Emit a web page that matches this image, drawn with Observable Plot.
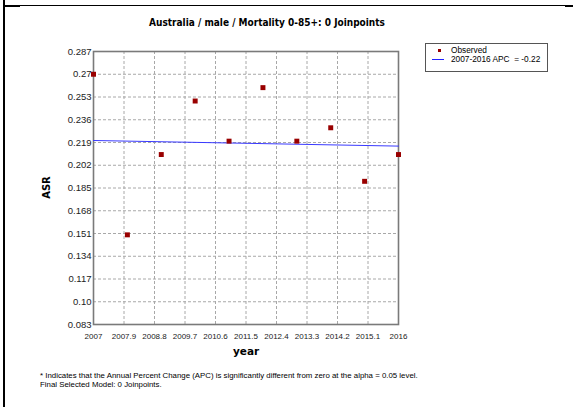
<!DOCTYPE html>
<html><head><meta charset="utf-8">
<script src="https://cdn.jsdelivr.net/npm/d3@7"></script>
<script src="https://cdn.jsdelivr.net/npm/@observablehq/plot@0.6"></script>
<style>
body{margin:0;background:#fff;width:573px;height:407px;position:relative;overflow:hidden;font-family:"Liberation Sans",Arial,sans-serif;color:#000}
#chart{position:absolute;left:0;top:0}
.abs{position:absolute;white-space:nowrap}
#title{left:0;width:534px;top:17px;text-align:center;font-weight:bold;font-size:10px;font-family:"DejaVu Sans Condensed","DejaVu Sans",sans-serif}
#xlab{left:233px;top:345px;font-weight:bold;font-size:10.5px;font-family:"DejaVu Sans",sans-serif}
#ylab{left:35px;top:182px;font-weight:bold;font-size:10px;font-family:"DejaVu Sans",sans-serif;transform:rotate(-90deg);transform-origin:center}
#legend{left:425px;top:43px;width:121px;height:27px;border:1px solid #555;background:#fff}
#foot{left:40px;top:372px;font-size:7.85px;line-height:8.5px}
.leg{font-size:8.3px}
</style></head><body>
<div class="abs" style="left:3px;top:0;width:2px;height:407px;background:#000"></div>
<div class="abs" style="left:4px;top:5px;width:565px;height:1px;background:#000"></div>
<div class="abs" style="left:4px;top:5px;width:16px;height:2px;background:#000"></div>
<div class="abs" style="left:565px;top:5px;width:8px;height:2px;background:#000"></div>
<div id="chart"></div>
<div id="title" class="abs">Australia / male / Mortality 0-85+: 0 Joinpoints</div>
<div id="xlab" class="abs">year</div>
<div id="ylab" class="abs">ASR</div>
<div id="legend" class="abs">
  <div class="abs" style="left:12px;top:5px;width:3px;height:3px;background:#990000"></div>
  <div class="abs" style="left:6px;top:15px;width:12px;height:1px;background:#2020ff"></div>
  <div class="abs leg" style="left:25px;top:1px">Observed</div>
  <div class="abs leg" style="left:25px;top:10px">2007-2016 APC &nbsp;= -0.22</div>
</div>
<div id="foot" class="abs">* Indicates that the Annual Percent Change (APC) is significantly different from zero at the alpha = 0.05 level.<br>Final Selected Model: 0 Joinpoints.</div>
<script>
const years = [2007, 2008, 2009, 2010, 2011, 2012, 2013, 2014, 2015, 2016];
const observed = [0.270, 0.150, 0.210, 0.250, 0.220, 0.260, 0.220, 0.230, 0.190, 0.210];
const fitYears = [2007, 2016];
const fitValues = [0.2205, 0.2163];
const xTicks = [2007, 2007.9, 2008.8, 2009.7, 2010.6, 2011.5, 2012.4, 2013.3, 2014.2, 2015.1, 2016];
const xTickLabels = ["2007", "2007.9", "2008.8", "2009.7", "2010.6", "2011.5", "2012.4", "2013.3", "2014.2", "2015.1", "2016"];
const yTicks = [0.287, 0.27, 0.253, 0.236, 0.219, 0.202, 0.185, 0.168, 0.151, 0.134, 0.117, 0.10, 0.083];
const yTickLabels = ["0.287", "0.27", "0.253", "0.236", "0.219", "0.202", "0.185", "0.168", "0.151", "0.134", "0.117", "0.10", "0.083"];

const obsData = years.map((y, i) => ({year: y, value: observed[i]}));
const fitData = fitYears.map((y, i) => ({year: y, value: fitValues[i]}));

const plot = Plot.plot({
  width: 573,
  height: 407,
  marginLeft: 93,
  marginRight: 175,
  marginTop: 51,
  marginBottom: 83,
  style: {background: "transparent", fontFamily: "'Liberation Sans', Arial, sans-serif", color: "#222"},
  x: {domain: [2007, 2016]},
  y: {domain: [0.083, 0.287]},
  marks: [
    Plot.gridX(xTicks, {stroke: "#a8a8a8", strokeOpacity: 1, strokeDasharray: "3,2"}),
    Plot.gridY(yTicks, {stroke: "#a8a8a8", strokeOpacity: 1, strokeDasharray: "3,2"}),
    Plot.axisX(xTicks, {tickFormat: d => xTickLabels[xTicks.indexOf(d)], tickSize: 0, tickPadding: 9, fontSize: 8, label: null}),
    Plot.axisY(yTicks, {tickFormat: d => yTickLabels[yTicks.indexOf(d)], tickSize: 0, tickPadding: 2, fontSize: 9.5, label: null}),
    Plot.frame({stroke: "#7a7a7a", strokeWidth: 1.6}),
    Plot.line(fitData, {x: "year", y: "value", stroke: "#3a3aff", strokeWidth: 1}),
    Plot.dot(obsData, {x: "year", y: "value", symbol: "square", r: 2.8, fill: "#990000", stroke: "none"})
  ]
});
document.getElementById("chart").appendChild(plot);
</script>
</body></html>
